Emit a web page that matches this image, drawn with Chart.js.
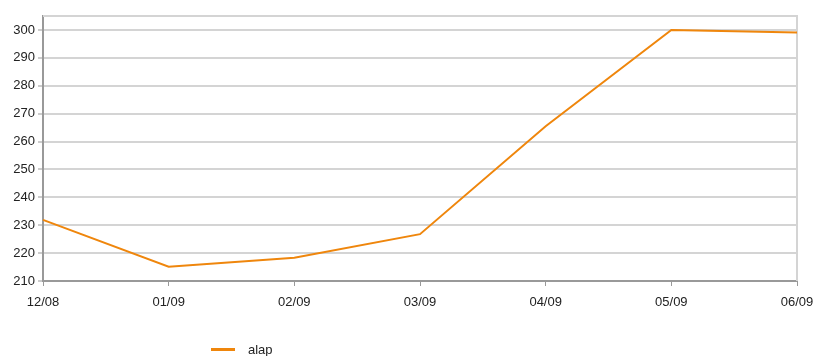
<!DOCTYPE html>
<html>
<head>
<meta charset="utf-8">
<script src="https://cdn.jsdelivr.net/npm/chart.js@4/dist/chart.umd.min.js"></script>
<style>
  html, body { margin: 0; padding: 0; background: #fff; }
  #wrap { position: relative; width: 813px; height: 356px; }
  #legend { position: absolute; left: 211px; top: 342px; font: 13px "Liberation Sans", Arial, sans-serif; color: #222; display: flex; align-items: center; }
  #legend .swatch { display: inline-block; width: 24px; height: 3px; margin-right: 13px; }
</style>
</head>
<body>
<div id="wrap">
  <canvas id="c" width="813" height="356"></canvas>
  <div id="legend"></div>
</div>
<script>
const categories = ["12/08", "01/09", "02/09", "03/09", "04/09", "05/09", "06/09"];
const seriesName = "alap";
const seriesValues = [231.9, 215.1, 218.3, 226.8, 265.5, 300.0, 299.1];
const yMin = 210, yMax = 305, yStep = 10;
const lineColor = "#ef860c";

const borderPlugin = {
  id: "borderPlugin",
  beforeDatasetsDraw(chart) {
    const a = chart.chartArea, ctx = chart.ctx;
    ctx.save();
    ctx.strokeStyle = "#d4d4d4";
    ctx.lineWidth = 2;
    ctx.beginPath();
    ctx.moveTo(a.left, a.top);
    ctx.lineTo(a.right, a.top);
    ctx.lineTo(a.right, a.bottom);
    ctx.stroke();
    ctx.restore();
  }
};

const font = { family: '"Liberation Sans", Arial, sans-serif', size: 13 };

new Chart(document.getElementById("c"), {
  type: "line",
  data: {
    labels: categories,
    datasets: [{
      label: seriesName,
      data: seriesValues,
      borderColor: lineColor,
      borderWidth: 2,
      pointRadius: 0,
      tension: 0,
      fill: false
    }]
  },
  options: {
    responsive: false,
    animation: false,
    layout: { padding: { top: 16, right: 0, left: 0, bottom: 0 } },
    plugins: { legend: { display: false }, tooltip: { enabled: false } },
    scales: {
      x: {
        offset: false,
        grid: { drawOnChartArea: false, drawTicks: true, tickLength: 5, color: "#999", lineWidth: 1 },
        border: { display: true, color: "#999", width: 2 },
        ticks: { color: "#222", font, maxRotation: 0, autoSkip: false, padding: 9 },
        afterFit(s) { s.height = 75; s.paddingLeft = 0; s.paddingRight = 16; }
      },
      y: {
        min: yMin, max: yMax,
        grid: { color: "#d4d4d4", lineWidth: 2, drawTicks: true, tickLength: 5, tickColor: "#999", tickWidth: 1 },
        border: { display: true, color: "#999", width: 2 },
        ticks: { stepSize: yStep, includeBounds: false, color: "#222", font, padding: 3 },
        afterFit(s) { s.width = 43; }
      }
    }
  },
  plugins: [borderPlugin]
});

const lg = document.getElementById("legend");
lg.innerHTML = '<span class="swatch" style="background:' + lineColor + '"></span><span>' + seriesName + '</span>';
</script>
</body>
</html>
